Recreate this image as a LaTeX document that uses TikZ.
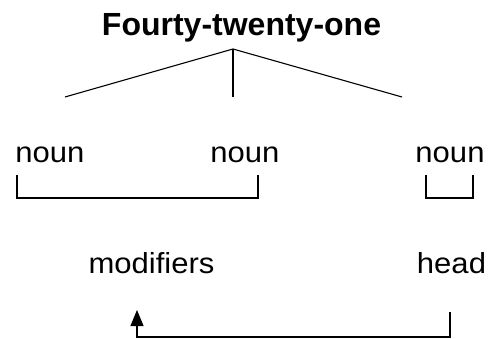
\documentclass[tikz,border=0pt]{standalone}
\usepackage{fontspec}
\setmainfont{Liberation Sans}
\usetikzlibrary{arrows.meta}
\tikzset{
  lbl/.style={anchor=base, inner sep=0pt, font=\fontsize{29}{32}\selectfont},
  ttl/.style={anchor=base, inner sep=0pt, font=\fontsize{32}{36}\selectfont\bfseries},
  ln/.style={line width=1.1pt, black},
}
\newcommand{\wide}[1]{\scalebox{1.07}[1]{#1}}
\begin{document}
\begin{tikzpicture}[x=1pt,y=-1pt]
\useasboundingbox (0,0) rectangle (489,339);
\node[ttl] (title) at (241.5,36) {Fourty-twenty-one};
\coordinate (apex) at (233,49);
\coordinate (tl) at (65,97);
\coordinate (tm) at (233,97);
\coordinate (tr) at (402,97);
\draw[ln] (tl) -- (apex) -- (tr);
\draw[ln] (apex) -- (tm);
\node[lbl] (n1) at (50,162) {\wide{noun}};
\node[lbl] (n2) at (245,162) {\wide{noun}};
\node[lbl] (n3) at (450,162) {\wide{noun}};
\coordinate (b1a) at (17,175);
\coordinate (b1b) at (258,175);
\coordinate (b2a) at (426,175);
\coordinate (b2b) at (473,175);
\draw[ln] (b1a) |- (258,198) -- (b1b);
\draw[ln] (b2a) |- (473,198) -- (b2b);
\node[lbl] (mod) at (151.5,273) {\wide{modifiers}};
\node[lbl] (head) at (451.5,273) {\wide{head}};
\coordinate (hs) at (450,312);
\coordinate (ms) at (137,310);
\draw[ln, -{Triangle[length=16pt,width=13pt]}] (hs) |- (137,337) -- (ms);
\end{tikzpicture}
\end{document}
